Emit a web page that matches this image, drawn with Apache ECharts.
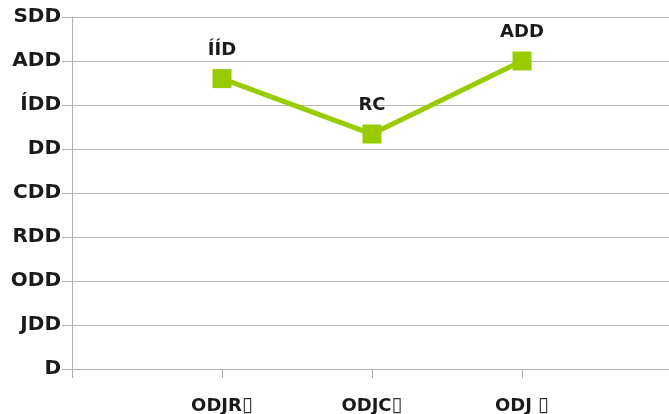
<!DOCTYPE html>
<html><head><meta charset="utf-8">
<script src="https://cdn.jsdelivr.net/npm/echarts@6/dist/echarts.min.js"></script>
<style>html,body{margin:0;padding:0;background:#fff}#c{width:669px;height:414px}</style>
</head><body><div id="c"></div>
<script>
const categories = ["", "ODJR", "ODJC", "ODJ ", ""];
const tofu = "\u25AF";
const values = [null, 660, 534, 700, null];
const pointLabels = ["", "ÍÍD", "RC", "ADD", ""];
const yTickLabels = ["D", "JDD", "ODD", "RDD", "CDD", "DD", "ÍDD", "ADD", "SDD"];

const chart = echarts.init(document.getElementById('c'));
const font = '"DejaVu Sans", sans-serif';
chart.setOption({
  animation: false,
  grid: { left: 72, top: 17, width: 600, height: 352, outerBoundsMode: 'none', containLabel: false },
  xAxis: {
    type: 'category', data: categories, boundaryGap: false,
    axisLine: { lineStyle: { color: '#b0b0b0', width: 1 } },
    axisTick: { show: true, length: 9, lineStyle: { color: '#b0b0b0' } },
    axisLabel: { color: '#1a1a1a', fontWeight: 'bold', fontSize: 18, fontFamily: font, margin: 27, interval: 0,
      lineHeight: 20, verticalAlign: 'top',
      formatter: v => v === '' ? '' : '{m|' + v + '}{t|' + tofu + '}',
      rich: {
        m: { fontSize: 18, fontWeight: 'bold', color: '#1a1a1a', fontFamily: font, lineHeight: 20 },
        t: { fontSize: 20, fontWeight: 'normal', color: '#333', fontFamily: font, lineHeight: 20 }
      } },
    splitLine: { show: false }
  },
  yAxis: {
    type: 'value', min: 0, max: 800, interval: 100,
    axisLine: { show: true, lineStyle: { color: '#b0b0b0', width: 1 } },
    axisTick: { show: true, length: 10, lineStyle: { color: '#b0b0b0' } },
    axisLabel: { color: '#1a1a1a', fontWeight: 'bold', fontSize: 20, fontFamily: font, margin: 11,
      formatter: v => yTickLabels[Math.round(v / 100)] },
    splitLine: { lineStyle: { color: '#b8b8b8', width: 1 } }
  },
  series: [{
    type: 'line', data: values, connectNulls: false,
    symbol: 'rect', symbolSize: 19,
    lineStyle: { color: '#99cc00', width: 5 },
    itemStyle: { color: '#99cc00' },
    label: { show: true, position: 'top', distance: 10, color: '#1a1a1a', fontWeight: 'bold', fontSize: 18, fontFamily: font,
      formatter: p => pointLabels[p.dataIndex] }
  }]
});
</script></body></html>
